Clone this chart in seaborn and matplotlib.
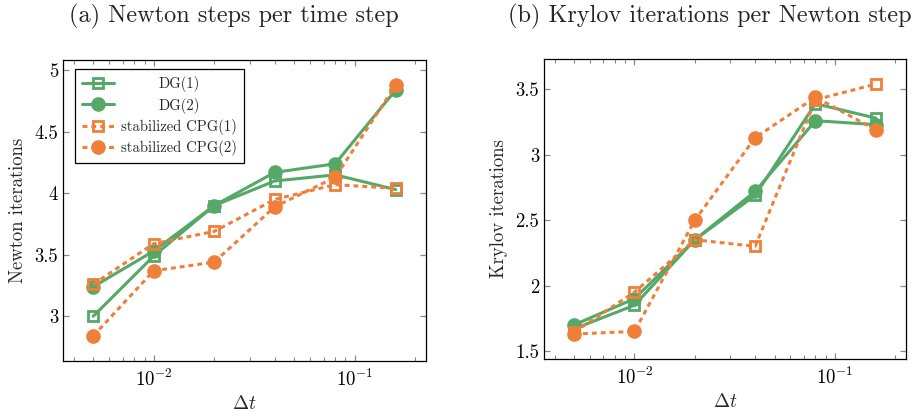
import numpy as np
import pandas as pd
import matplotlib
matplotlib.use("Agg")
import matplotlib.pyplot as plt
import matplotlib.transforms as mtransforms
import seaborn as sns

dt = [0.005, 0.01, 0.02, 0.04, 0.08, 0.16]
series = ["DG(1)", "DG(2)", "stabilized CPG(1)", "stabilized CPG(2)"]

newton_dg1 = [3.00, 3.49, 3.90, 4.10, 4.15, 4.03]
newton_dg2 = [3.24, 3.53, 3.90, 4.17, 4.24, 4.84]
newton_cpg1 = [3.26, 3.59, 3.69, 3.95, 4.07, 4.04]
newton_cpg2 = [2.84, 3.37, 3.44, 3.89, 4.13, 4.88]

krylov_dg1 = [1.67, 1.85, 2.35, 2.69, 3.39, 3.28]
krylov_dg2 = [1.70, 1.90, 2.35, 2.72, 3.26, 3.23]
krylov_cpg1 = [1.645, 1.95, 2.35, 2.30, 3.42, 3.54]
krylov_cpg2 = [1.63, 1.65, 2.50, 3.13, 3.44, 3.19]

titles = ["(a) Newton steps per time step", "(b) Krylov iterations per Newton step"]
ylabels = ["Newton iterations", "Krylov iterations"]
yticks_l = [3, 3.5, 4, 4.5, 5]
yticks_r = [1.5, 2, 2.5, 3, 3.5]

green = "#55A868"
orange = "#F07F3A"

sns.set_theme(style="white")
plt.rcParams["font.family"] = ["cmr10", "DejaVu Serif"]
plt.rcParams["mathtext.fontset"] = "cm"
plt.rcParams["axes.formatter.use_mathtext"] = True
plt.rcParams["axes.unicode_minus"] = False

def make_df(vals):
    rows = []
    for name, v in zip(series, vals):
        for x, y in zip(dt, v):
            rows.append({"dt": x, "value": y, "series": name})
    return pd.DataFrame(rows)

styles = {
    "DG(1)": dict(color=green, marker="s", mfc="none", ls="-"),
    "DG(2)": dict(color=green, marker="o", mfc=green, ls="-"),
    "stabilized CPG(1)": dict(color=orange, marker="s", mfc="none", ls=(0, (1.6, 1.3))),
    "stabilized CPG(2)": dict(color=orange, marker="o", mfc=orange, ls=(0, (1.6, 1.3))),
}

W, H = 918, 416
fig = plt.figure(figsize=(W / 100, H / 100), dpi=100)
ax1 = fig.add_axes([0.0686, 0.1322, 0.3954, 0.7236])
ax2 = fig.add_axes([0.5926, 0.137, 0.3943, 0.721])

data = [
    make_df([newton_dg1, newton_dg2, newton_cpg1, newton_cpg2]),
    make_df([krylov_dg1, krylov_dg2, krylov_cpg1, krylov_cpg2]),
]

lx = np.log10(dt)
xr = lx.max() - lx.min()
xlim = (10 ** (lx.min() - 0.1 * xr), 10 ** (lx.max() + 0.1 * xr))

title_x = [234 / W, 710 / W]

for i, (ax, df) in enumerate(zip([ax1, ax2], data)):
    for name in series:
        st = styles[name]
        sub = df[df["series"] == name]
        ms = 7.5 if st["marker"] == "s" else 8.5
        sns.lineplot(data=sub, x="dt", y="value", ax=ax, color=st["color"],
                     marker=st["marker"], markersize=ms, markerfacecolor=st["mfc"],
                     markeredgecolor=st["color"], markeredgewidth=2.0,
                     linewidth=2.2, linestyle=st["ls"], label=name, legend=False)
    ax.set_xscale("log")
    ax.set_xlim(*xlim)
    vmin, vmax = df["value"].min(), df["value"].max()
    yr = vmax - vmin
    ax.set_ylim(vmin - 0.1 * yr, vmax + 0.1 * yr)
    yt = yticks_l if i == 0 else yticks_r
    ax.set_yticks(yt)
    ax.set_yticklabels([f"{t:g}" for t in yt])
    ax.set_xlabel(r"$\Delta t$", fontsize=14, labelpad=3)
    ax.set_ylabel(ylabels[i], fontsize=13.5, labelpad=5)
    fig.text(title_x[i], 1 - 16 / H, titles[i], fontsize=17.5, ha="center", va="center")
    ax.minorticks_on()
    ax.yaxis.set_minor_locator(matplotlib.ticker.NullLocator())
    ax.tick_params(axis="both", which="both", direction="in",
                   bottom=True, left=True, top=True, right=True,
                   colors="#888888", labelcolor="black", labelsize=13.5)
    ax.tick_params(axis="both", which="major", length=4.5, width=0.9)
    ax.tick_params(axis="x", which="minor", length=3, width=0.8)
    ax.tick_params(axis="x", which="major", pad=6)
    for sp in ax.spines.values():
        sp.set_color("black")
        sp.set_linewidth(0.9)
    ax.grid(False)

leg = ax1.legend(loc="upper left", bbox_to_anchor=(12 / 363, 1 - 9 / 301), fontsize=10.5,
                 frameon=True, fancybox=False, edgecolor="black", framealpha=1,
                 handlelength=2.2, borderpad=0.5, labelspacing=0.36, handletextpad=0.45,
                 borderaxespad=0.0)
leg.get_frame().set_linewidth(0.9)

# center legend labels within their column, as in the reference
fig.canvas.draw()
renderer = fig.canvas.get_renderer()
texts = leg.get_texts()
widths = [t.get_window_extent(renderer).width for t in texts]
wmax = max(widths)
for t, w in zip(texts, widths):
    dx = (wmax - w) / 2.0
    t.set_transform(t.get_transform() + mtransforms.Affine2D().translate(dx, 0))

fig.savefig("out.png", dpi=100)
